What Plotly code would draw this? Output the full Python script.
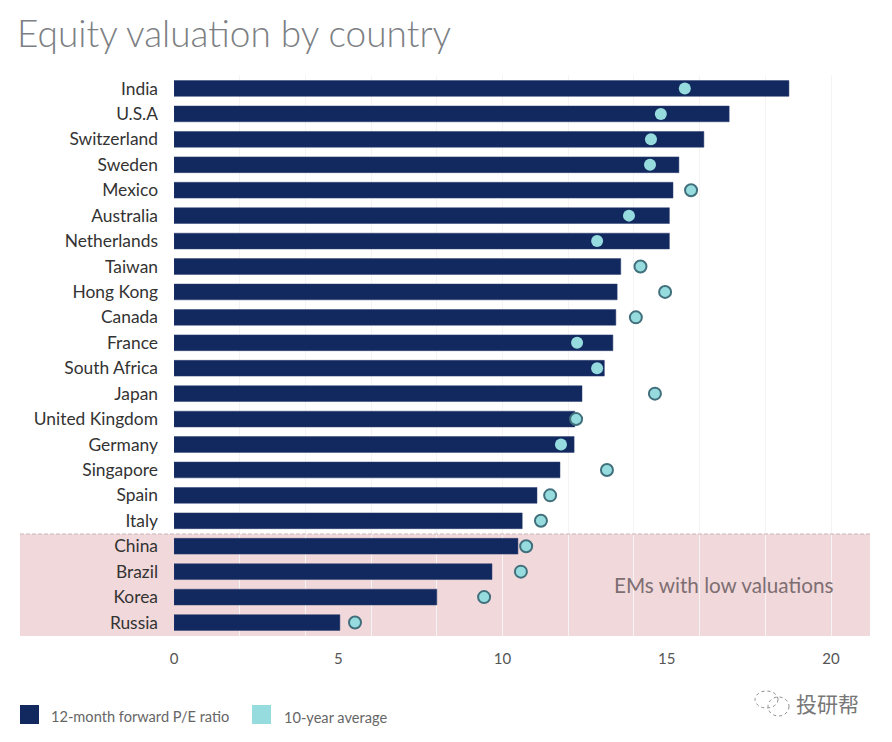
import plotly.graph_objects as go

countries = ['India', 'U.S.A', 'Switzerland', 'Sweden', 'Mexico', 'Australia', 'Netherlands',
             'Taiwan', 'Hong Kong', 'Canada', 'France', 'South Africa', 'Japan',
             'United Kingdom', 'Germany', 'Singapore', 'Spain', 'Italy',
             'China', 'Brazil', 'Korea', 'Russia']
forward_pe = [18.72, 16.9, 16.13, 15.37, 15.19, 15.08, 15.08, 13.6, 13.49, 13.45, 13.36,
              13.1, 12.42, 12.2, 12.18, 11.75, 11.05, 10.6, 10.47, 9.68, 8.0, 5.05]
ten_year_avg = [15.55, 14.82, 14.52, 14.49, 15.74, 13.85, 12.88, 14.2, 14.95, 14.06, 12.27,
                12.88, 14.64, 12.24, 11.78, 13.18, 11.45, 11.17, 10.72, 10.56, 9.44, 5.51]
x_ticks = [0, 5, 10, 15, 20]

W, H = 892, 742
L, R, T, B = 174, 870, 75, 636
NAVY = '#12295f'
TEAL = '#96dcdf'


def px(x):
    return (x - L) / (R - L)


def py(y):
    return (B - y) / (B - T)


def rect(x0, y0, x1, y1, color, layer='above'):
    return dict(type='rect', xref='paper', yref='paper', x0=px(x0), x1=px(x1), y0=py(y0), y1=py(y1),
                fillcolor=color, line_width=0, layer=layer)


def label(x, y, text, size, color, anchor='left', family='Lato', weight=400):
    return dict(xref='paper', yref='paper', x=px(x), y=py(y), text=text, showarrow=False,
                xanchor=anchor, yanchor='middle', font=dict(family=family, size=size, color=color, weight=weight))


def bubble(x0, y0, x1, y1):
    return dict(type='circle', xref='paper', yref='paper', x0=px(x0), x1=px(x1), y0=py(y0), y1=py(y1),
                line=dict(color='#8a8a8a', width=1, dash='dot'))


# dots sitting on a bar lose their outline against the navy
dot_widths = [0 if a < b else 2 for a, b in zip(ten_year_avg, forward_pe)]

fig = go.Figure()
fig.add_trace(go.Bar(x=forward_pe, y=countries, orientation='h', width=0.62,
                     marker=dict(color=NAVY, line=dict(color='#2d3f70', width=0.5)),
                     name='12-month forward P/E ratio'))
fig.add_trace(go.Scatter(x=ten_year_avg, y=countries, mode='markers',
                         marker=dict(color=TEAL, size=12, opacity=1,
                                     line=dict(color='#41707c', width=dot_widths)),
                         name='10-year average'))

shapes = [
    rect(20, 534, 870, 636, '#f1d8da', 'below'),
    dict(type='line', xref='paper', yref='paper', x0=px(20), x1=px(870), y0=py(534), y1=py(534),
         line=dict(color='#c9b5b9', width=1.2, dash='4px,2px')),
    rect(20, 705, 39, 724, NAVY),
    rect(252, 705, 271, 724, TEAL),
    bubble(755, 691, 778, 708),
    bubble(768, 697, 789, 716),
]
annotations = [
    label(15, 33, 'Equity valuation by country', 37, '#7c8084', weight=300),
    label(724, 585, 'EMs with low valuations', 20.7, '#7d6e72', 'center'),
    label(49, 716, '12-month forward P/E ratio', 14.6, '#666666'),
    label(282, 717, '10-year average', 14.6, '#666666'),
    label(794, 703, '投研帮', 21, '#777777', family='Noto Sans CJK SC'),
]

fig.update_layout(
    width=W, height=H, margin=dict(l=L, r=W - R, t=T, b=H - B, autoexpand=False),
    paper_bgcolor='white', plot_bgcolor='rgba(0,0,0,0)',
    showlegend=False, shapes=shapes, annotations=annotations,
    font=dict(family='Lato'),
)
fig.update_xaxes(range=[0, (R - L) / 32.85], tickvals=x_ticks, showgrid=False, zeroline=False,
                 showline=False, ticks='', ticklabelstandoff=12,
                 tickfont=dict(size=15, color='#555555'),
                 minor=dict(tick0=0, dtick=2, showgrid=True, gridcolor='#f6f3f5', gridwidth=1, ticks=''))
fig.update_yaxes(categoryorder='array', categoryarray=countries, range=[21.53, -0.53],
                 showgrid=False, zeroline=False, showline=False, ticks='', ticklabelstandoff=15,
                 tickfont=dict(size=17.4, color='#333333'))

fig.write_html("out.html", config=dict(displayModeBar=False),
               post_script="document.body.style.margin='0';")
